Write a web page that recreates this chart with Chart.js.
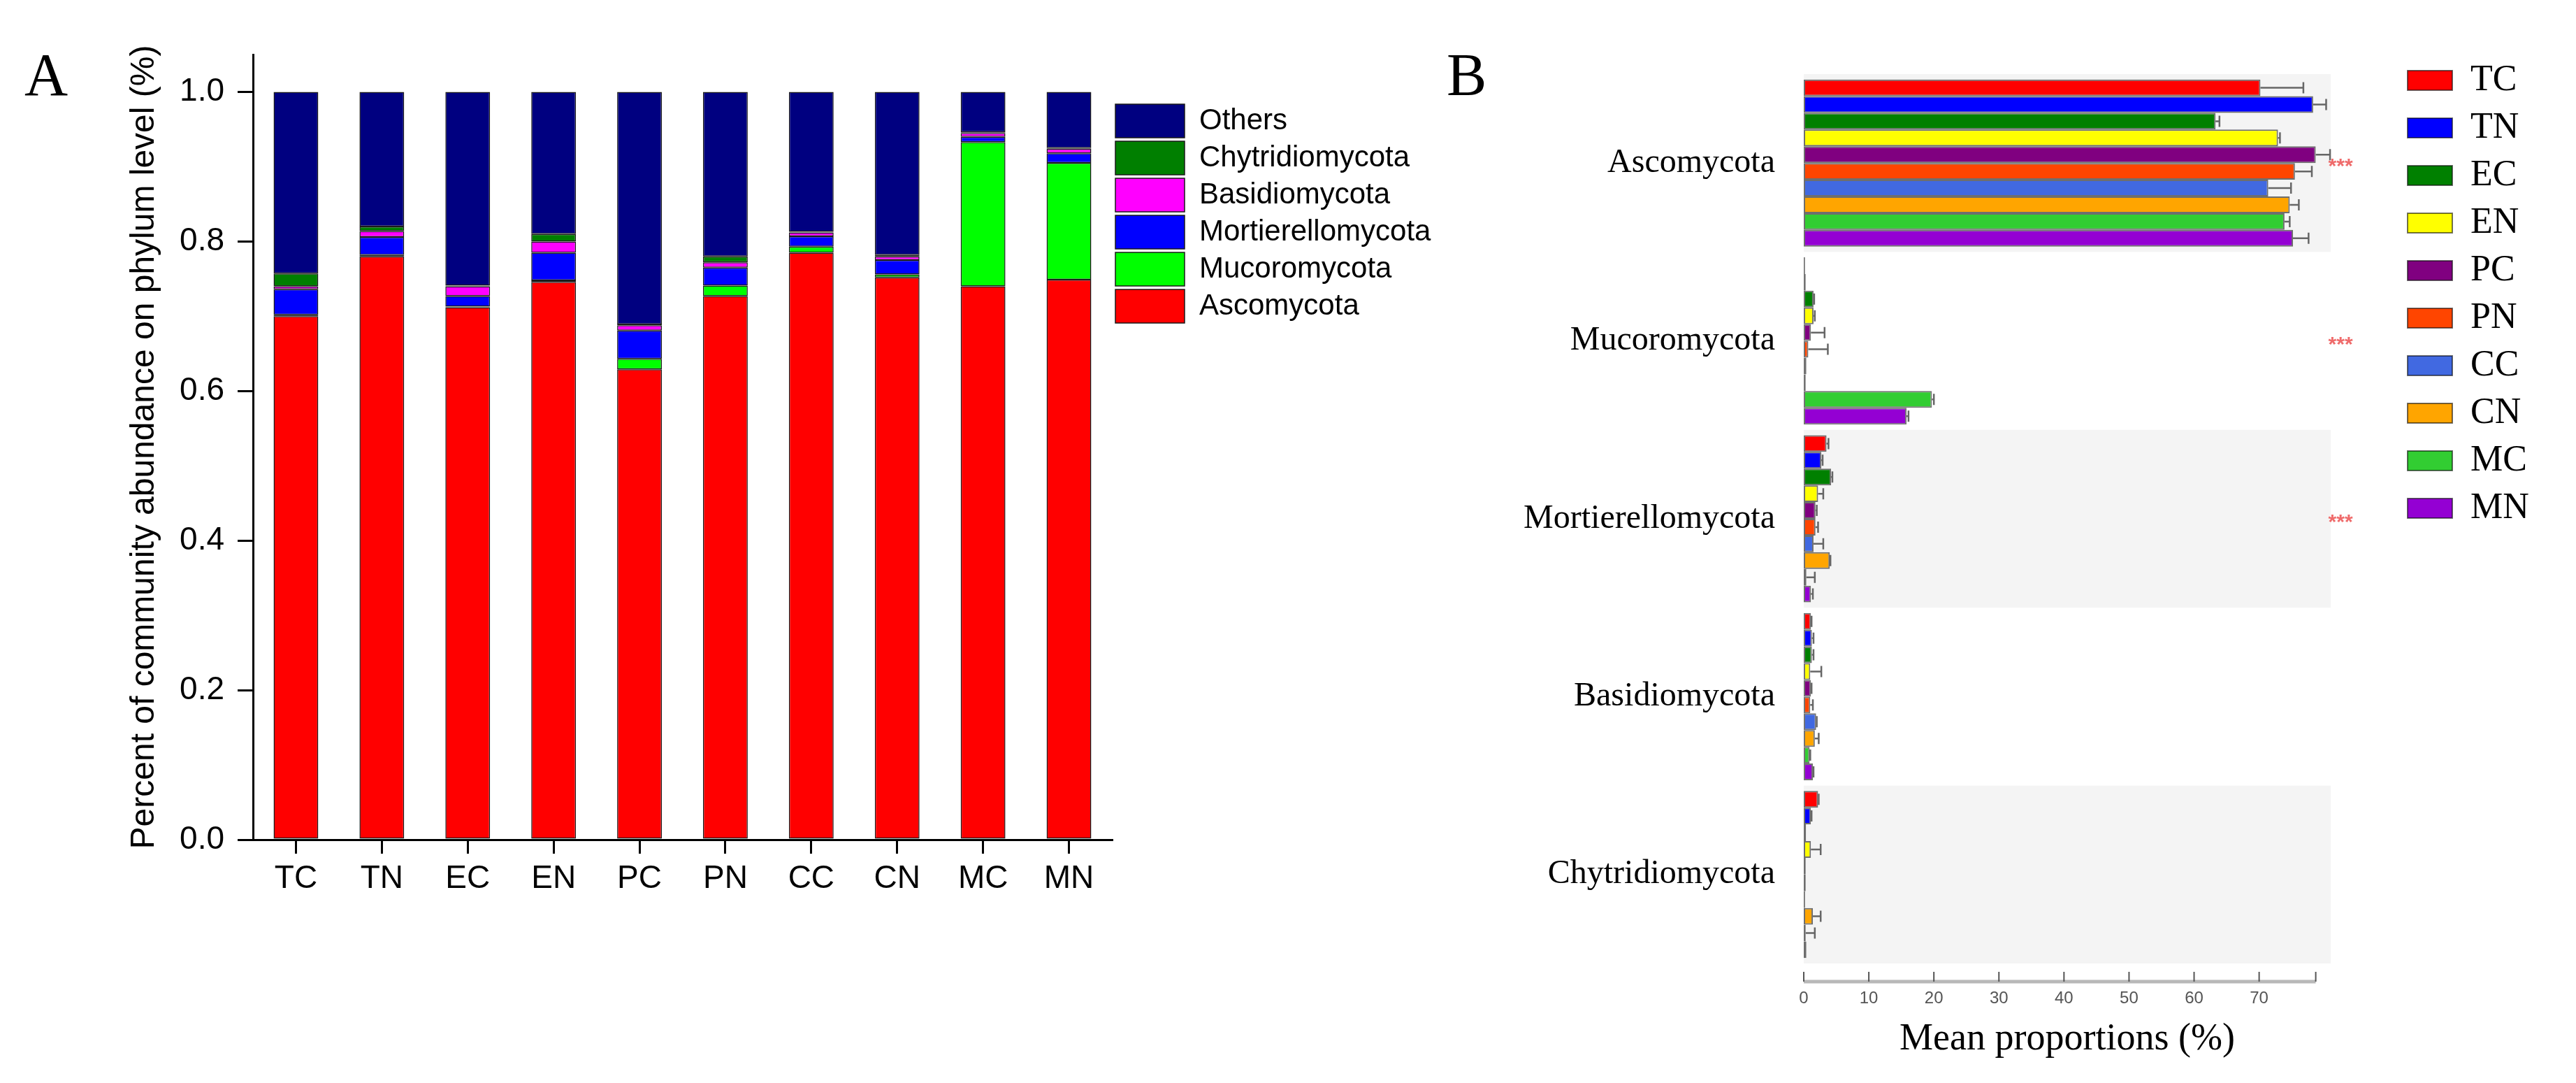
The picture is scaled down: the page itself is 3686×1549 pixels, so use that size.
<!DOCTYPE html>
<html>
<head>
<meta charset="utf-8">
<script src="https://cdn.jsdelivr.net/npm/chart.js@4.4.1/dist/chart.umd.min.js"></script>
<style>
  html, body { margin: 0; padding: 0; background: #fff; }
  body { width: 3686px; height: 1549px; position: relative; overflow: hidden; }
  #boxA { position: absolute; left: 0; top: 0; width: 2100px; height: 1549px; }
  #boxB { position: absolute; left: 2000px; top: 0; width: 1686px; height: 1549px; }
  .tag { position: absolute; font-family: "Liberation Serif", "Times New Roman", serif; font-size: 86px; line-height: 1; color: #000; }
</style>
</head>
<body>
<div class="tag" style="left:35px;top:64px">A</div>
<div class="tag" style="left:2070px;top:64px">B</div>
<div id="boxA"><canvas id="abundanceChart"></canvas></div>
<div id="boxB"><canvas id="proportionChart"></canvas></div>
<script>
// panel A: relative abundance, stacked
const groups = ["TC", "TN", "EC", "EN", "PC", "PN", "CC", "CN", "MC", "MN"];
const ascomycota = [0.700, 0.780, 0.712, 0.746, 0.629, 0.727, 0.785, 0.752, 0.740, 0.749];
const mucoromycota = [0.002, 0.002, 0.001, 0.002, 0.014, 0.014, 0.008, 0.004, 0.193, 0.156];
const mortierellomycota = [0.034, 0.024, 0.014, 0.037, 0.038, 0.024, 0.014, 0.019, 0.007, 0.013];
const basidiomycota = [0.004, 0.008, 0.013, 0.015, 0.007, 0.007, 0.005, 0.005, 0.005, 0.006];
const chytridiomycota = [0.017, 0.006, 0.001, 0.010, 0.001, 0.008, 0.001, 0.002, 0.001, 0.001];
const others = [0.243, 0.180, 0.259, 0.190, 0.311, 0.220, 0.187, 0.218, 0.054, 0.075];
const yTicksA = [0, 0.2, 0.4, 0.6, 0.8, 1.0];

// panel B: mean proportions (%) and error bar lengths
const phyla = ["Ascomycota", "Mucoromycota", "Mortierellomycota", "Basidiomycota", "Chytridiomycota"];
const meanAsco = [70.2, 78.3, 63.3, 72.9, 78.7, 75.5, 71.4, 74.7, 73.9, 75.2];
const meanMuco = [0.2, 0.3, 1.5, 1.5, 1.1, 0.7, 0.4, 0.3, 19.7, 15.8];
const meanMort = [3.5, 2.7, 4.2, 2.2, 1.8, 1.8, 1.5, 4.0, 0.4, 1.1];
const meanBasi = [1.1, 1.25, 1.25, 1.0, 1.1, 1.0, 1.9, 1.7, 0.9, 1.4];
const meanChyt = [2.2, 1.1, 0.35, 1.1, 0.3, 0.3, 0.2, 1.4, 0.3, 0.4];
const errAsco = [6.6, 2.0, 0.6, 0.3, 2.2, 2.6, 3.5, 1.4, 0.8, 2.4];
const errMuco = [0, 0, 0.1, 0.2, 2.1, 3.0, 0, 0, 0.3, 0.3];
const errMort = [0.3, 0.2, 0.2, 0.8, 0.2, 0.4, 1.5, 0.1, 1.3, 0.3];
const errBasi = [0.1, 0.25, 0.25, 1.7, 0.1, 0.4, 0.1, 0.6, 0.1, 0.1];
const errChyt = [0.1, 0.1, 0, 1.5, 0, 0, 0, 1.2, 1.4, 0];
const significance = ["***", "***", "***", "", ""];
const xTicksB = [0, 10, 20, 30, 40, 50, 60, 70];
const xAxisEndB = 78.7;

const groupColors = ["#ff0000", "#0000ff", "#008000", "#ffff00", "#800080",
  "#ff4500", "#4169e1", "#ffa500", "#32cd32", "#9400d3"];

Chart.defaults.font.family = "'Liberation Sans', Arial, sans-serif";
Chart.defaults.color = "#000";
Chart.defaults.animation = false;

// move the legend block away from the plot (and widen its clip box)
const legendNudge = {
  id: "legendNudge",
  afterLayout(chart, args, opts) {
    const lg = chart.legend;
    if (!lg) return;
    lg.left += opts.dx;
    lg.right += opts.dx + opts.grow;
    lg.top += opts.dy;
    lg.bottom += opts.dy;
  }
};

const stackA = [
  ["Ascomycota", ascomycota, "#ff0000"],
  ["Mucoromycota", mucoromycota, "#00ff00"],
  ["Mortierellomycota", mortierellomycota, "#0000ff"],
  ["Basidiomycota", basidiomycota, "#ff00ff"],
  ["Chytridiomycota", chytridiomycota, "#007f00"],
  ["Others", others, "#000080"],
];

new Chart(document.getElementById("abundanceChart"), {
  type: "bar",
  data: {
    labels: groups,
    datasets: stackA.map(([name, vals, col]) => ({
      label: name,
      data: vals,
      backgroundColor: col,
      borderColor: "#1a1a1a",
      borderWidth: 1.5,
      borderSkipped: false,
      barPercentage: 0.52,
      categoryPercentage: 1,
    })),
  },
  options: {
    responsive: true,
    maintainAspectRatio: false,
    layout: { padding: { top: 78, left: 0, right: 69, bottom: 198 } },
    plugins: {
      tooltip: { enabled: false },
      legend: {
        position: "right",
        align: "start",
        reverse: true,
        maxWidth: 440,
        labels: {
          boxWidth: 99,
          boxHeight: 48,
          padding: 5,
          color: "#000",
          font: { size: 42 },
        },
      },
      legendNudge: { dx: 0, dy: 66, grow: 60 },
    },
    scales: {
      x: {
        stacked: true,
        grid: { drawOnChartArea: false, offset: false, tickLength: 20, tickWidth: 3, lineWidth: 3, color: "#000" },
        border: { color: "#000", width: 3 },
        ticks: { color: "#000", font: { size: 46 }, padding: 9, maxRotation: 0 },
        afterFit: (s) => { s.height = 150; },
      },
      y: {
        stacked: true,
        min: 0,
        max: 1.05,
        afterBuildTicks: (s) => { s.ticks = yTicksA.map((v) => ({ value: v })); },
        grid: { drawOnChartArea: false, tickLength: 22, tickWidth: 3, lineWidth: 3, color: "#000" },
        border: { color: "#000", width: 3 },
        ticks: { color: "#000", font: { size: 46 }, padding: 19, callback: (v) => Number(v).toFixed(1) },
        title: {
          display: true,
          text: "Percent of community abundance on phylum level (%)",
          color: "#000",
          font: { size: 48 },
          padding: { top: 178, bottom: 0 },
        },
        afterFit: (s) => { s.width = 362; },
      },
    },
  },
  plugins: [legendNudge],
});

// panel B helpers
const meanRows = [meanAsco, meanMuco, meanMort, meanBasi, meanChyt];
const errRows = [errAsco, errMuco, errMort, errBasi, errChyt];

const bandShade = {
  id: "bandShade",
  beforeDatasetsDraw(chart) {
    const { ctx, chartArea, scales: { y } } = chart;
    const half = (y.getPixelForValue(1) - y.getPixelForValue(0)) / 2;
    ctx.save();
    ctx.fillStyle = "#f4f4f4";
    phyla.forEach((p, i) => {
      if (i % 2) return;
      const c = y.getPixelForValue(i);
      ctx.fillRect(chartArea.left, c - half, chartArea.right - chartArea.left, half * 2);
    });
    ctx.restore();
  },
};

const errorBars = {
  id: "errorBars",
  afterDatasetsDraw(chart) {
    const { ctx, scales: { x, y } } = chart;
    ctx.save();
    ctx.strokeStyle = "#666";
    ctx.lineWidth = 2.5;
    chart.data.datasets.forEach((ds, i) => {
      chart.getDatasetMeta(i).data.forEach((bar, j) => {
        const e = ds.errors[j];
        if (!e) return;
        const x1 = x.getPixelForValue(ds.data[j] + e);
        ctx.beginPath();
        ctx.moveTo(bar.x, bar.y);
        ctx.lineTo(x1, bar.y);
        ctx.moveTo(x1, bar.y - 8);
        ctx.lineTo(x1, bar.y + 8);
        ctx.stroke();
      });
    });
    // significance marks
    ctx.fillStyle = "#ef6b6b";
    ctx.font = "bold 30px 'Liberation Sans'";
    ctx.textAlign = "left";
    ctx.textBaseline = "middle";
    significance.forEach((s, i) => {
      if (s) ctx.fillText(s, x.getPixelForValue(xAxisEndB) + 18, y.getPixelForValue(i) + 6);
    });
    ctx.restore();
  },
};

const axisB = {
  id: "axisB",
  afterDraw(chart) {
    const { ctx, chartArea, scales: { x } } = chart;
    const yLine = chartArea.bottom + 26;
    const x0 = x.getPixelForValue(0);
    const x1 = x.getPixelForValue(xAxisEndB);
    ctx.save();
    ctx.strokeStyle = "#b8b8b8";
    ctx.lineWidth = 5;
    ctx.beginPath();
    ctx.moveTo(x0, yLine);
    ctx.lineTo(x1, yLine);
    ctx.stroke();
    ctx.strokeStyle = "#555";
    ctx.lineWidth = 2;
    ctx.beginPath();
    xTicksB.concat([xAxisEndB]).forEach((v) => {
      const px = x.getPixelForValue(v);
      ctx.moveTo(px, yLine);
      ctx.lineTo(px, yLine - 14);
    });
    ctx.stroke();
    ctx.restore();
  },
};

new Chart(document.getElementById("proportionChart"), {
  type: "bar",
  data: {
    labels: phyla,
    datasets: groups.map((g, i) => ({
      label: g,
      data: meanRows.map((r) => r[i]),
      errors: errRows.map((r) => r[i]),
      backgroundColor: groupColors[i],
      borderColor: "rgba(0,0,0,0.55)",
      borderWidth: 2,
      borderSkipped: false,
      barPercentage: 1,
      categoryPercentage: 0.94,
    })),
  },
  options: {
    indexAxis: "y",
    responsive: true,
    maintainAspectRatio: false,
    layout: { padding: { top: 106, left: 0, right: 171, bottom: 0 } },
    plugins: {
      tooltip: { enabled: false },
      legend: {
        position: "right",
        align: "start",
        maxWidth: 180,
        labels: {
          boxWidth: 64,
          boxHeight: 28,
          padding: 16,
          color: "#000",
          font: { size: 52, family: "'Liberation Serif', 'Times New Roman', serif" },
        },
      },
      legendNudge: { dx: 94, dy: -33, grow: 60 },
    },
    scales: {
      x: {
        min: 0,
        max: 81,
        afterBuildTicks: (s) => { s.ticks = xTicksB.map((v) => ({ value: v })); },
        grid: { display: false, drawTicks: false },
        border: { display: false },
        ticks: {
          color: "#555",
          padding: 36,
          maxRotation: 0,
          font: { size: 24, family: "'Liberation Sans Narrow', 'Liberation Sans', sans-serif" },
        },
        title: {
          display: true,
          text: "Mean proportions (%)",
          color: "#000",
          font: { size: 54, family: "'Liberation Serif', 'Times New Roman', serif" },
          padding: { top: 0, bottom: 30 },
        },
        afterFit: (s) => { s.height = 171; },
      },
      y: {
        grid: { display: false, drawTicks: false },
        border: { display: false },
        ticks: {
          color: "#000",
          padding: 41,
          font: { size: 48, family: "'Liberation Serif', 'Times New Roman', serif" },
        },
        afterFit: (s) => { s.width = 581; },
      },
    },
  },
  plugins: [bandShade, errorBars, axisB, legendNudge],
});
</script>
</body>
</html>
